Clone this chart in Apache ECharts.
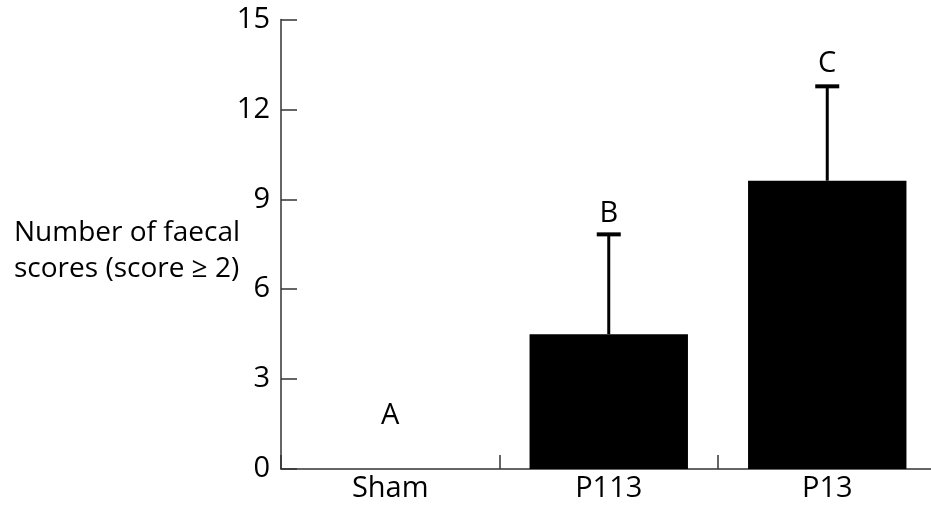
<!DOCTYPE html>
<html>
<head>
<meta charset="utf-8">
<style>html,body{margin:0;padding:0;background:#fff;}#c{width:931px;height:508px;}</style>
<script src="https://cdn.jsdelivr.net/npm/echarts@6/dist/echarts.min.js"></script>
</head>
<body>
<div id="c"></div>
<script>
const categories = ['Sham', 'P113', 'P13'];
const means = [0, 4.5, 9.62];
const upperErrors = [0, 7.83, 12.77];
const letters = ['A', 'B', 'C'];
const letterValues = [1.77, 8.53, 13.53];
const yTicks = [0, 3, 6, 9, 12, 15];
const yNameLines = ['Number of faecal', 'scores (score \u2265 2)'];

const FONT = '"Open Sans", sans-serif';
const chart = echarts.init(document.getElementById('c'), null, {renderer: 'canvas'});

chart.setOption({
  animation: false,
  backgroundColor: '#fff',
  grid: {left: 281, width: 655.5, top: 19.5, height: 449.5, outerBoundsMode: 'none', containLabel: false},
  xAxis: {
    type: 'category',
    data: categories,
    boundaryGap: true,
    axisLine: {lineStyle: {color: '#333', width: 1.5}},
    axisTick: {show: true, inside: true, length: 14, lineStyle: {color: '#333', width: 1.5}},
    axisLabel: {fontFamily: FONT, fontSize: 29, color: '#000', margin: 5}
  },
  yAxis: {
    type: 'value',
    min: yTicks[0],
    max: yTicks[yTicks.length - 1],
    interval: 3,
    splitLine: {show: false},
    axisLine: {show: true, lineStyle: {color: '#333', width: 1.5}},
    axisTick: {show: true, inside: true, length: 16, lineStyle: {color: '#333', width: 1.5}},
    axisLabel: {fontFamily: FONT, fontSize: 29, color: '#000', margin: 11}
  },
  graphic: yNameLines.map((t, i) => ({
    type: 'text',
    left: 14,
    top: 219 + i * 36,
    style: {text: t, fontFamily: FONT, fontSize: 28, fill: '#000'}
  })),
  series: [
    {
      type: 'bar',
      data: means,
      barWidth: '72.5%',
      itemStyle: {color: '#000'}
    },
    {
      type: 'custom',
      data: categories.map((c, i) => [i, means[i], upperErrors[i]]),
      renderItem: function (params, api) {
        const i = api.value(0), m = api.value(1), u = api.value(2);
        if (u <= m) return null;
        const top = api.coord([i, u]);
        const bot = api.coord([i, m]);
        return {
          type: 'group',
          children: [
            {type: 'line', shape: {x1: top[0], y1: bot[1], x2: top[0], y2: top[1]}, style: {stroke: '#000', lineWidth: 3}},
            {type: 'line', shape: {x1: top[0] - 12, y1: top[1], x2: top[0] + 12, y2: top[1]}, style: {stroke: '#000', lineWidth: 4}}
          ]
        };
      },
      z: 3
    },
    {
      type: 'custom',
      data: categories.map((c, i) => [i, letterValues[i]]),
      renderItem: function (params, api) {
        const p = api.coord([api.value(0), api.value(1)]);
        return {
          type: 'text',
          x: p[0],
          y: p[1],
          style: {text: letters[params.dataIndex], fontFamily: FONT, fontSize: 29, fill: '#000', align: 'center', verticalAlign: 'middle'}
        };
      },
      z: 4
    }
  ]
});
</script>
</body>
</html>
